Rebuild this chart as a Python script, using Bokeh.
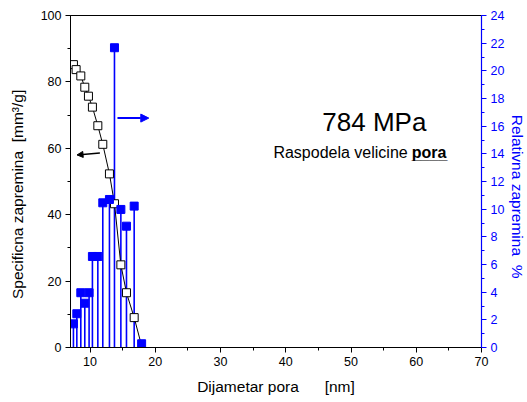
import math
from bokeh.plotting import figure
from bokeh.models import Range1d, LinearAxis, SingleIntervalTicker, Arrow, NormalHead, Label, Title
from bokeh.embed import file_html
from bokeh.resources import INLINE

# Specific volume (left axis)
dia_spec = [7.45, 7.86, 8.58, 9.19, 9.75, 10.36, 11.19, 11.95, 12.97, 13.74, 14.72, 15.58, 16.76, 17.9]
spec_vol = [85.2, 83.7, 81.8, 78.4, 75.7, 72.4, 66.8, 61.2, 52.3, 43.3, 24.9, 16.5, 9.0, 0.5]

# Relative volume (right axis, %)
dia_rel = [7.45, 7.97, 8.58, 9.19, 9.85, 10.36, 11.19, 11.95, 12.97, 13.74, 14.72, 15.58, 16.76, 17.9]
rel_vol = [1.71, 2.44, 3.96, 3.2, 3.96, 6.58, 6.58, 10.46, 10.7, 21.67, 9.98, 8.77, 10.22, 0.27]

FONT = "Liberation Sans"
BLUE = "#0000ff"
NB = "\u00a0"

p = figure(frame_width=411, frame_height=332, x_range=Range1d(7, 70), y_range=Range1d(0, 100),
           output_backend="svg", toolbar_location=None,
           min_border_left=70, min_border_top=15, min_border_right=2, min_border_bottom=50)
p.extra_y_ranges = {"rel": Range1d(0, 24)}
p.xgrid.visible = False
p.ygrid.visible = False
p.outline_line_color = "black"
p.outline_line_width = 1
p.background_fill_color = "white"

def style_axis(ax, color):
    ax.axis_line_color = color
    ax.major_tick_line_color = color
    ax.minor_tick_line_color = color
    ax.major_label_text_color = color
    ax.axis_label_text_color = color
    ax.major_tick_out = 5
    ax.major_tick_in = 0
    ax.minor_tick_out = 3
    ax.minor_tick_in = 0
    ax.major_label_text_font = FONT
    ax.major_label_text_font_size = "12.5px"
    ax.axis_label_text_font = FONT
    ax.axis_label_text_font_size = "15.5px"
    ax.axis_label_text_font_style = "normal"
    ax.major_label_standoff = 4

xa = p.xaxis[0]
xa.ticker = SingleIntervalTicker(interval=10, num_minor_ticks=2)
xa.axis_label = "Dijametar pora" + NB * 6 + "[nm]"
xa.axis_label_standoff = 9
style_axis(xa, "black")

ya = p.yaxis[0]
ya.ticker = SingleIntervalTicker(interval=20, num_minor_ticks=2)
ya.axis_label = "Specificna zapremina" + NB * 2 + "[mm\u00b3/g]" + NB * 6
ya.axis_label_standoff = 12
style_axis(ya, "black")

ra = LinearAxis(y_range_name="rel", ticker=SingleIntervalTicker(interval=2, num_minor_ticks=2))
style_axis(ra, BLUE)
ra.axis_line_width = 1.2
p.add_layout(ra, "right")

# Right axis title, reading top-to-bottom
p.add_layout(Title(text=NB * 7 + "Relativna zapremina" + NB * 2 + "%", align="center",
                   text_font=FONT, text_font_size="15.5px", text_font_style="normal",
                   text_color=BLUE, standoff=2, offset=0), "right")

# Blue drop lines and squares
p.segment(x0=dia_rel, y0=[0] * len(rel_vol), x1=dia_rel, y1=rel_vol, y_range_name="rel",
          line_color=BLUE, line_width=1.6)

# Black line with open squares
p.line(dia_spec, spec_vol, line_color="black", line_width=1)
p.scatter(dia_spec[:-1], spec_vol[:-1], marker="square", size=8, fill_color="white",
          line_color="black", line_width=1)

p.scatter(dia_rel, rel_vol, y_range_name="rel", marker="square", size=8,
          fill_color=BLUE, line_color=BLUE)

# Arrows
p.add_layout(Arrow(x_start=11.5, y_start=58.6, x_end=8.0, y_end=58.0, line_color="black", line_width=1.5,
                   end=NormalHead(size=6, fill_color="black", line_color="black")))
p.add_layout(Arrow(x_start=14.2, y_start=69.1, x_end=19.0, y_end=69.1, line_color=BLUE, line_width=2,
                   end=NormalHead(size=8, fill_color=BLUE, line_color=BLUE)))

# Text annotations
p.add_layout(Label(x=45.6, y=68.0, text="784 MPa", text_font=FONT, text_font_size="26px",
                   text_color="black", text_baseline="alphabetic"))
p.add_layout(Label(x=38.1, y=58.8, text="Raspodela velicine", text_font=FONT, text_font_size="16px",
                   text_color="black", text_baseline="alphabetic"))
p.add_layout(Label(x=59.3, y=58.8, text="pora", text_font=FONT, text_font_size="16px",
                   text_font_style="bold", text_color="black", text_baseline="alphabetic"))
p.add_layout(Label(x=59.3, y=58.4, text="____", text_font=FONT, text_font_size="16px",
                   text_font_style="bold", text_color="black", text_baseline="alphabetic"))

open("out.html", "w").write(file_html(p, INLINE))
